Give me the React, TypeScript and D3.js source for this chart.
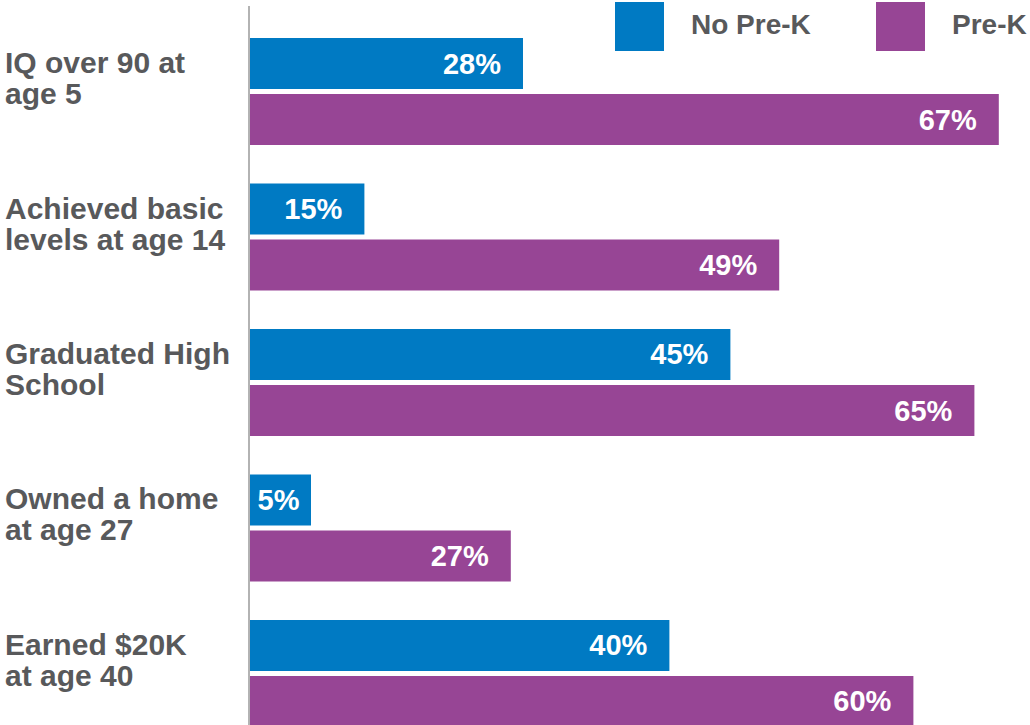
import React from "react";
import * as d3 from "d3";

const categories: string[][] = [
  ["IQ over 90 at", "age 5"],
  ["Achieved basic", "levels at age 14"],
  ["Graduated High", "School"],
  ["Owned a home", "at age 27"],
  ["Earned $20K", "at age 40"],
];
const seriesNames = ["No Pre-K", "Pre-K"];
const noPreK = [28, 15, 45, 5, 40];
const preK = [67, 49, 65, 27, 60];
const colors = ["#007ac3", "#974595"];

const W = 1030;
const H = 725;
const axisX = 250;
const minBarWidth = 61;
const textColor = "#58595b";
const font = "'Liberation Sans', Arial, sans-serif";

export default function App() {
  const keys = categories.map((c) => c.join(" "));
  const y = d3.scaleBand<string>().domain(keys).range([38, 727]).paddingInner(0.2646).paddingOuter(0);
  const ySub = d3.scaleBand<string>().domain(seriesNames).range([0, y.bandwidth()]).paddingInner(5 / 56).paddingOuter(0);
  const x = d3.scaleLinear().domain([0, 67]).range([181.4, 998.8]);
  const values = [noPreK, preK];

  return (
    <svg width={W} height={H} style={{ position: "absolute", left: 0, top: 0, background: "#fff" }}>
      {seriesNames.map((s, i) => {
        const lx = i === 0 ? 615 : 876;
        return (
          <g key={s}>
            <rect x={lx} y={2} width={49} height={49} fill={colors[i]} />
            <text x={lx + 76} y={34} fontFamily={font} fontWeight="bold" fontSize={28} fill={textColor}>
              {s}
            </text>
          </g>
        );
      })}
      {keys.map((k, ci) => {
        const g0 = y(k)!;
        const gc = g0 + y.bandwidth() / 2;
        return (
          <g key={k}>
            <text x={5} y={gc - 18.5} fontFamily={font} fontWeight="bold" fontSize={30} fill={textColor}>
              {categories[ci][0]}
            </text>
            <text x={5} y={gc + 12.5} fontFamily={font} fontWeight="bold" fontSize={30} fill={textColor}>
              {categories[ci][1]}
            </text>
            {seriesNames.map((s, si) => {
              const v = values[si][ci];
              const by = g0 + ySub(s)!;
              const bh = ySub.bandwidth();
              const end = Math.max(x(v), axisX + minBarWidth);
              const w = end - axisX;
              const small = w < 90;
              return (
                <g key={s}>
                  <rect x={axisX} y={by} width={w} height={bh} fill={colors[si]} />
                  <text
                    x={small ? axisX + w / 2 - 2 : end - 22}
                    y={by + bh / 2 + 10}
                    textAnchor={small ? "middle" : "end"}
                    fontFamily={font}
                    fontWeight="bold"
                    fontSize={29}
                    fill="#fff"
                  >
                    {v}%
                  </text>
                </g>
              );
            })}
          </g>
        );
      })}
      <line x1={249} x2={249} y1={6} y2={H} stroke="#b3b3b3" strokeWidth={2} />
    </svg>
  );
}
